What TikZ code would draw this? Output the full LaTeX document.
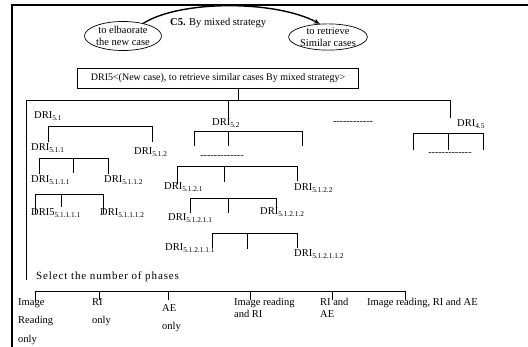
\documentclass[tikz,border=0pt]{standalone}
\usepackage{fontspec}
\setmainfont{Liberation Serif}
\usetikzlibrary{shapes.geometric,arrows.meta}
\newcommand\dri[1]{DRI\textsubscript{#1}}
\begin{document}
\begin{tikzpicture}[x=1pt,y=-1pt,
  lbl/.style={font=\fontsize{10.5}{12}\selectfont, inner sep=0pt, anchor=west},
  ln/.style={line width=0.7pt},
  oval/.style={ellipse, draw, line width=0.7pt, inner sep=0pt, align=center,
     font=\fontsize{10.5}{11.5}\selectfont},
  dashlbl/.style={font=\fontsize{10}{11}\selectfont, inner sep=0pt},
  opt/.style={lbl, anchor=north west, align=left, font=\fontsize{10.5}{12.5}\selectfont}]
\useasboundingbox (0,0) rectangle (528,347);
% frame
\draw[line width=1.8pt] (528,5) -- (12,5) -- (12,347);
% top ellipses and arrow
\node[oval, minimum width=77pt, minimum height=29pt] (e1) at (123,36) {to elbaorate\\the new case};
\node[oval, minimum width=70pt, minimum height=26pt] (e2) at (328,37) {to retrieve\\Similar cases};
\draw[line width=1.4pt, -{Stealth[length=6pt,width=5pt]}] (e1.32) .. controls (180,0) and (275,0) .. (e2.122);
\node[lbl] (c5) at (170,23) {\textbf{C5.} By mixed strategy};
% main box
\node[draw, ln, minimum width=281pt, minimum height=20pt, inner sep=0pt, font=\fontsize{10}{11}\selectfont] (box) at (218,78)
  {DRI5<(New case), to retrieve similar cases By mixed strategy>};
\coordinate (bx) at (238,88);
\coordinate (bt) at (238,100);
\draw[ln] (bx) -- (bt);
% big bracket
\draw[ln] (26,280) -- (26,100) -- (450,100) -- (450,118);
\draw[ln] (228,100) -- (228,118);
% left subtree
\node[lbl] (n51) at (34,116) {\dri{5.1}};
\draw[ln] (48,142) -- (48,126) -- (152,126) -- (152,142);
\node[lbl] (n511) at (31,148) {\dri{5.1.1}};
\node[lbl] (n512) at (134,152) {\dri{5.1.2}};
\draw[ln] (39,174) -- (39,158) -- (108,158) -- (108,174);
\draw[ln] (73,158) -- (73,173);
\node[lbl] (n5111) at (31,180) {\dri{5.1.1.1}};
\node[lbl] (n5112) at (104,180) {\dri{5.1.1.2}};
\draw[ln] (35,214) -- (35,194) -- (103,194) -- (103,214);
\draw[ln] (61,194) -- (61,207);
\node[lbl] (n51111) at (31,213) {DRI5\textsubscript{5.1.1.1.1}};
\node[lbl] (n51112) at (100,213) {\dri{5.1.1.1.2}};
% middle subtree
\node[lbl] (n52) at (212,123) {\dri{5.2}};
\draw[ln] (194,146) -- (194,131) -- (302,131) -- (302,146);
\draw[ln] (228,131) -- (228,146);
\node[dashlbl] (d1) at (222,157) {-{}-{}-{}-{}-{}-{}-{}-{}-{}-{}-{}-{}-};
\draw[ln] (177,184) -- (177,166) -- (297,166) -- (297,181);
\draw[ln] (224,166) -- (224,182);
\node[lbl] (n5121) at (164,187) {\dri{5.1.2.1}};
\node[lbl] (n5122) at (294,188) {\dri{5.1.2.2}};
\draw[ln] (190,213) -- (190,198) -- (276,198) -- (276,213);
\draw[ln] (228,198) -- (228,213);
\node[lbl] (n51211) at (168,218) {\dri{5.1.2.1.1}};
\node[lbl] (n51212) at (260,212) {\dri{5.1.2.1.2}};
\draw[ln] (212,248) -- (212,233) -- (297,233) -- (297,248);
\draw[ln] (247,233) -- (247,249);
\node[lbl] (n512111) at (165,248) {\dri{5.1.2.1.1.1}};
\node[lbl] (n512112) at (294,254) {\dri{5.1.2.1.1.2}};
% right part
\node[dashlbl] (d2) at (353,123) {-{}-{}-{}-{}-{}-{}-{}-{}-{}-{}-{}-};
\node[lbl] (n45) at (457,124) {\dri{4.5}};
\draw[ln] (413,150) -- (413,133) -- (483,133) -- (483,150);
\draw[ln] (448,133) -- (448,150);
\node[dashlbl] (d3) at (450,154) {-{}-{}-{}-{}-{}-{}-{}-{}-{}-{}-{}-{}-};
% bottom
\node[lbl, font=\fontsize{11}{12}\selectfont\addfontfeature{LetterSpace=8}] (sel) at (36,277) {Select the number of phases};
\draw[ln] (35,302) -- (35,291) -- (405,291) -- (405,300);
\foreach \x in {99,168,250,332} \draw[ln] (\x,291) -- (\x,300);
\node[opt] (o1) at (18,298) {Image\\[6pt]Reading\\[6pt]only};
\node[opt] (o2) at (92,298) {RI\\[6pt]only};
\node[opt] (o3) at (162,304) {AE\\[6pt]only};
\node[opt] (o4) at (234,298) {Image reading\\and RI};
\node[opt] (o5) at (320,298) {RI and\\AE};
\node[opt] (o6) at (367,298) {Image reading, RI and AE};
\end{tikzpicture}
\end{document}
